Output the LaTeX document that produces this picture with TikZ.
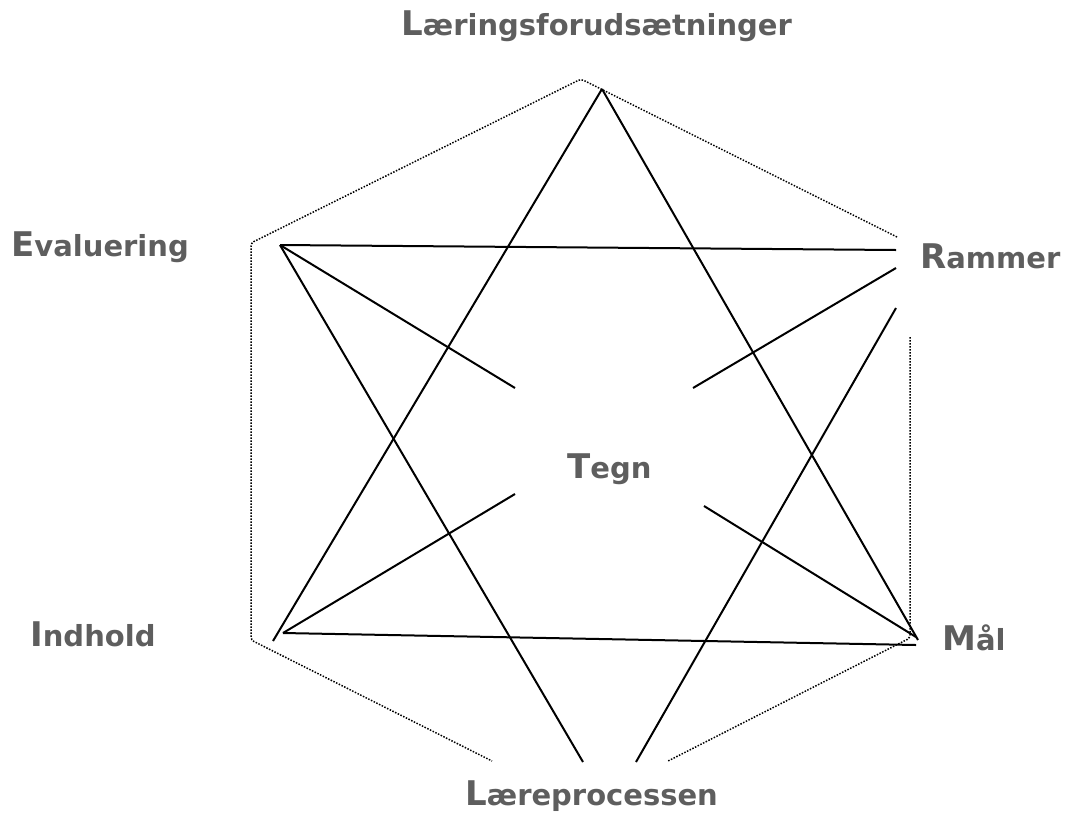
\documentclass[tikz,border=0pt]{standalone}
\usepackage{fontspec}
\setmainfont{DejaVu Sans}
\definecolor{labgray}{HTML}{5E5E5E}
\newcommand\mylab[2]{{\fontsize{34}{34}\selectfont #1}{\fontsize{29}{29}\selectfont #2}}
\begin{document}
\begin{tikzpicture}[x=1pt,y=-1pt,
  solidline/.style={line width=2pt,black},
  dotline/.style={line width=1.5pt,black,dash pattern=on 1.5pt off 1.5pt},
  lab/.style={inner sep=0pt,anchor=base west,text=labgray,font=\bfseries}]
\useasboundingbox (0,0) rectangle (1067,814);
% coordinates
\coordinate (apex) at (602,89);
\coordinate (evalC) at (280,245);
\coordinate (rammH) at (896,250);
\coordinate (rammS) at (896,268);
\coordinate (rammL) at (896,308);
\coordinate (indT) at (273,641);
\coordinate (indH) at (283,633);
\coordinate (malT) at (918,640);
\coordinate (malH) at (916,645);
\coordinate (malS) at (916,637);
\coordinate (cTL) at (515,388);
\coordinate (cTR) at (693,388);
\coordinate (cBL) at (515,494);
\coordinate (cBR) at (704,506);
\coordinate (botL) at (583,762);
\coordinate (botR) at (636,762);
% hexagon corners
\coordinate (h1) at (897,237);
\coordinate (h2) at (581,79);
\coordinate (h3) at (251,243);
\coordinate (h4) at (251,640);
\coordinate (h5) at (492,761);
\coordinate (h6) at (910,337);
\coordinate (h7) at (910,638);
\coordinate (h8) at (668,761);
% dotted hexagon
\draw[dotline,rounded corners=3pt] (h1) -- (h2) -- (h3) -- (h4) -- (h5);
\draw[dotline,rounded corners=3pt] (h6) -- (h7) -- (h8);
% star lines
\draw[solidline] (apex) -- (indT);
\draw[solidline] (apex) -- (malT);
\draw[solidline] (indH) -- (malH);
\draw[solidline] (evalC) -- (rammH);
\draw[solidline] (evalC) -- (botL);
\draw[solidline] (rammL) -- (botR);
\draw[solidline] (evalC) -- (cTL);
\draw[solidline] (rammS) -- (cTR);
\draw[solidline] (indH) -- (cBL);
\draw[solidline] (malS) -- (cBR);
% labels
\node[lab] (lf) at (401,35) {\mylab{L}{æringsforudsætninger}};
\node[lab] (ev) at (11,256) {\mylab{E}{valuering}};
\node[lab] (ra) at (920,268) {\mylab{R}{ammer}};
\node[lab] (in) at (30,646) {\mylab{I}{ndhold}};
\node[lab] (ma) at (942,650) {\mylab{M}{ål}};
\node[lab] (lp) at (465,805) {\mylab{L}{æreprocessen}};
\node[lab] (te) at (567,478) {\mylab{T}{egn}};
\end{tikzpicture}
\end{document}
